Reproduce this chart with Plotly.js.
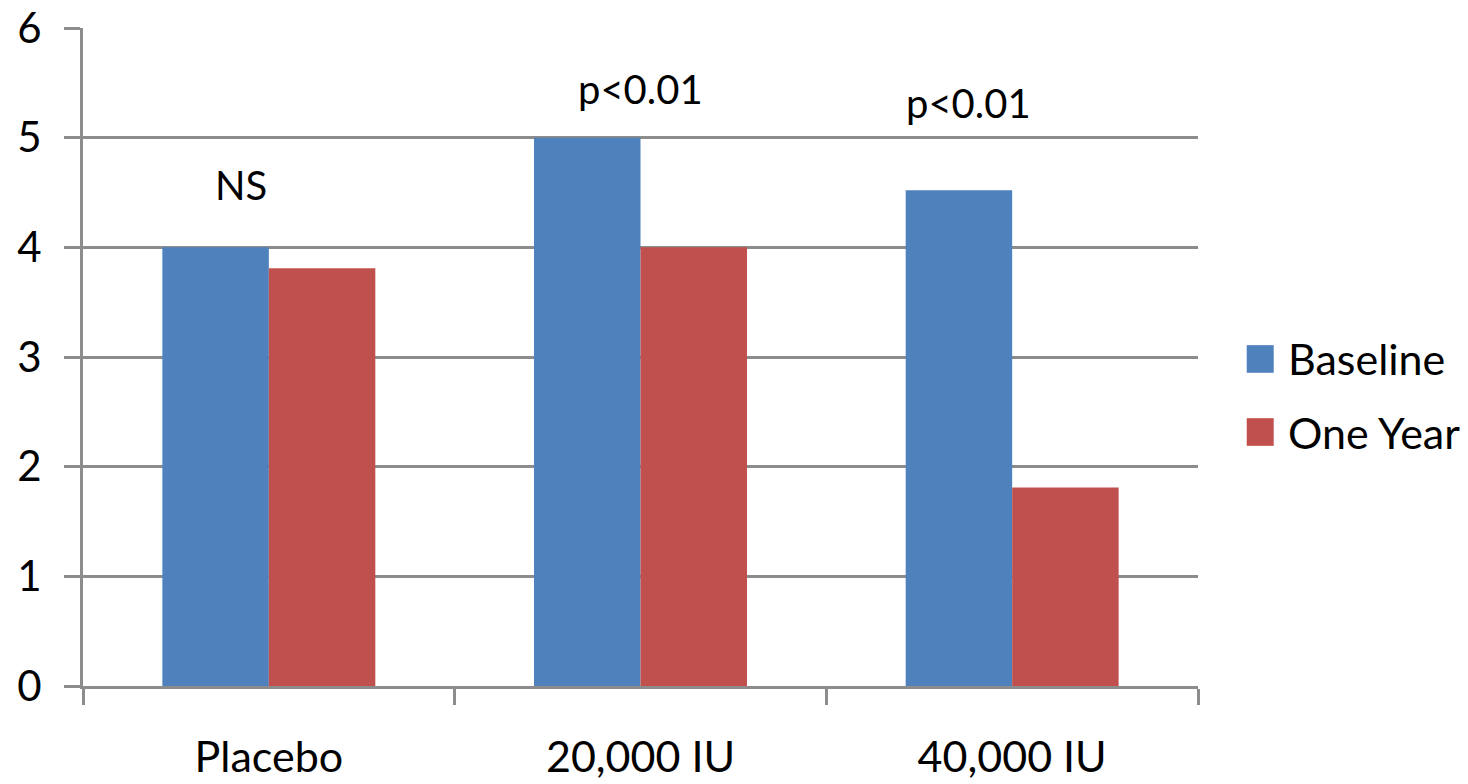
<!DOCTYPE html>
<html>
<head>
<meta charset="utf-8">
<script src="https://cdn.plot.ly/plotly-3.0.1.min.js"></script>
<style>html,body{margin:0;padding:0;background:#fff;}#chart{width:1468px;height:784px;}</style>
</head>
<body>
<div id="chart"></div>
<script>
const categories = ["Placebo", "20,000 IU", "40,000 IU"];
const seriesNames = ["Baseline", "One Year"];
const baseline = [4.0, 5.0, 4.52];
const oneYear = [3.81, 4.0, 1.81];
const yTicks = [0, 1, 2, 3, 4, 5, 6];
const pLabels = ["NS", "p<0.01", "p<0.01"];
const pLabelY = [4.57, 5.44, 5.32];

const colors = ["#4F81BD", "#C0504D"];
const FONT = "Lato, 'Liberation Sans', sans-serif";
const GRID = "#8c8c8c";

const traces = [
  {type: "bar", name: seriesNames[0], x: categories, y: baseline, marker: {color: colors[0]}, hoverinfo: "none"},
  {type: "bar", name: seriesNames[1], x: categories, y: oneYear, marker: {color: colors[1]}, hoverinfo: "none"}
];

const xShifts = [-28, 0, -44];
const annotations = pLabels.map((t, i) => ({
  x: categories[i], y: pLabelY[i], xref: "x", yref: "y", text: t, showarrow: false,
  xshift: xShifts[i], font: {family: FONT, size: 40, color: "#000"}
}));

// manual legend (large square swatches)
const legendY = [0.497, 0.386];
const shapes = [];
seriesNames.forEach((n, i) => {
  shapes.push({type: "rect", xref: "paper", yref: "paper",
    x0: 1.0437, x1: 1.0679, y0: legendY[i] - 0.021, y1: legendY[i] + 0.021,
    fillcolor: colors[i], line: {width: 0}});
  annotations.push({xref: "paper", yref: "paper", x: 1.0785, y: legendY[i], xanchor: "left", yanchor: "middle",
    text: n, showarrow: false, font: {family: FONT, size: 43, color: "#000"}});
});

const layout = {
  width: 1468, height: 784,
  margin: {l: 83, r: 270, t: 28, b: 98},
  paper_bgcolor: "#fff", plot_bgcolor: "#fff",
  showlegend: false,
  barmode: "group", bargap: 0.427, bargroupgap: 0,
  font: {family: FONT, size: 40, color: "#000"},
  xaxis: {
    type: "category", tickson: "boundaries", ticks: "outside", ticklen: 16, tickwidth: 3, tickcolor: GRID,
    showline: true, linecolor: GRID, linewidth: 3, showgrid: false, zeroline: false,
    tickfont: {family: FONT, size: 43, color: "#000"}, ticklabelstandoff: 31
  },
  yaxis: {
    range: [0, 6], tickvals: yTicks, ticktext: yTicks.map(String),
    ticks: "outside", ticklen: 16, tickwidth: 3, tickcolor: GRID,
    showline: true, linecolor: GRID, linewidth: 3,
    showgrid: true, gridcolor: GRID, gridwidth: 3, zeroline: false,
    tickfont: {family: FONT, size: 42, color: "#000"}, ticklabelstandoff: 14
  },
  annotations: annotations,
  shapes: shapes
};

Plotly.newPlot("chart", traces, layout, {displayModeBar: false, staticPlot: true});
</script>
</body>
</html>
